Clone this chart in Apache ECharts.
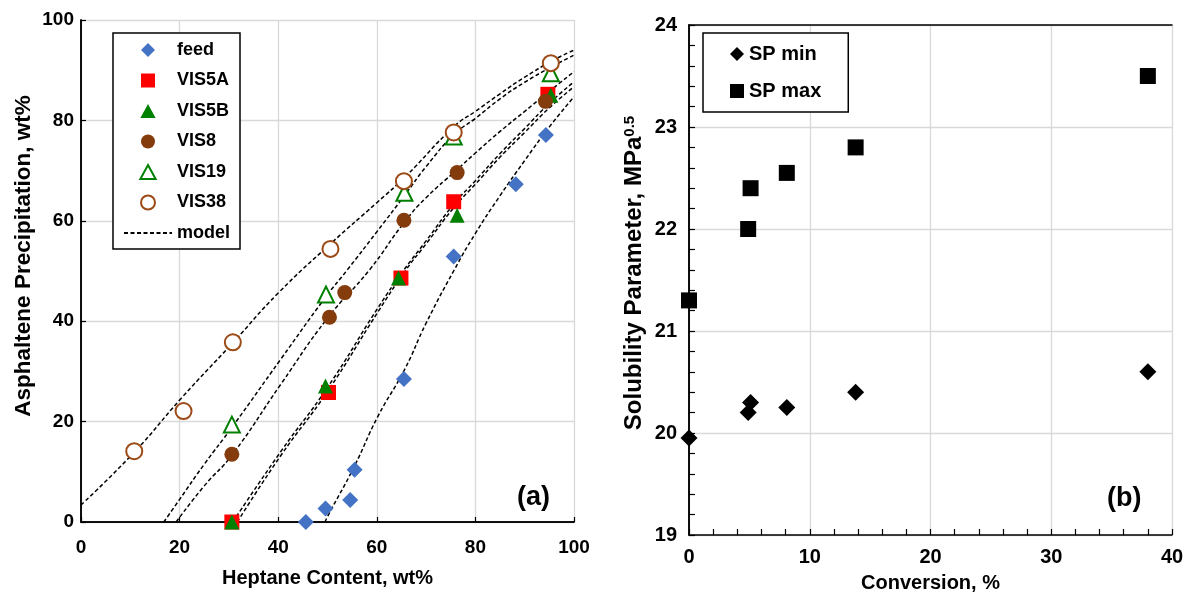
<!DOCTYPE html>
<html>
<head>
<meta charset="utf-8">
<script src="https://cdn.jsdelivr.net/npm/echarts@6/dist/echarts.min.js"></script>
<style>
html,body{margin:0;padding:0;background:#fff;}
#c{width:1186px;height:594px;}
</style>
</head>
<body>
<div id="c"></div>
<script>
// ---- Panel (a): measured points [heptane wt%, precipitation wt%] ----
const feed  = [[45.6,0],[49.6,2.7],[54.6,4.4],[55.5,10.4],[65.5,28.5],[75.6,52.9],[88.2,67.3],[94.3,77.1]];
const vis5A = [[30.6,0],[50.2,25.8],[64.9,48.6],[75.6,63.8],[94.7,85.2]];
const vis5B = [[30.6,0],[49.6,27.1],[64.4,48.6],[76.3,61.1],[95.3,85.0]];
const vis8  = [[30.6,13.5],[50.4,40.8],[53.5,45.7],[65.5,60.1],[76.3,69.6],[94.2,83.8]];
const vis19 = [[30.6,19.4],[49.7,45.3],[65.6,65.6],[75.6,76.8],[95.3,89.4]];
const vis38 = [[10.8,14.1],[20.8,22.1],[30.8,35.8],[50.6,54.4],[65.5,67.9],[75.6,77.6],[95.3,91.4]];

// ---- Panel (a): model curves ----
const modelVis38 = [[0,3.4],[10.8,13.9],[20.3,24.6],[30.8,35.7],[40,45.6],[50.7,55.5],[60,63.6],[65.8,68.8],[75.7,78.8],[80,81.8],[85,85.3],[90,88.6],[95.8,92],[100,94]];
const modelVis19 = [[16.8,0],[20,4.5],[25,11.5],[30.8,19.1],[40.5,32.4],[49.7,44.9],[54,50.2],[60,57.8],[65.6,65],[70,70.8],[75.7,77.2],[80,80.4],[85,84.3],[90,87.6],[95.5,90.7],[100,93]];
const modelVis8  = [[19.3,0],[25,7.2],[30.6,13.3],[40.5,27.4],[50,40.6],[58.5,50.2],[65.5,59.6],[70,64.6],[76.3,70.2],[80,73.5],[85,77.8],[90,81.8],[95,85.8],[100,89.7]];
const modelVis5A = [[30.8,0],[40.5,14],[50,26.8],[60.2,42.6],[65.5,50.2],[70,56],[75.6,63.3],[80,68],[85,73.4],[90,78.4],[95,83.4],[100,87.7]];
const modelVis5B = [[31.7,0],[40.5,13.2],[50,26],[60.2,41.8],[65.9,50.2],[70,55.4],[75.6,62.6],[80,67.3],[85,72.7],[90,77.6],[95,82.5],[100,86.7]];
const modelFeed  = [[49.5,0],[50,1.1],[55.4,11],[60.2,21],[65.6,30.3],[70,39.6],[75.7,50.2],[80,57.5],[85,65],[90,72],[95,78.7],[100,84.7]];

// ---- Panel (b) ----
const conversion = [0, 4.9, 5.1, 8.1, 13.8, 38.0];
const spMin = [19.95, 20.2, 20.3, 20.25, 20.4, 20.6];
const spMax = [21.3, 22.0, 22.4, 22.55, 22.8, 23.5];

const FONT = 'Liberation Sans, Arial, sans-serif';
const chart = echarts.init(document.getElementById('c'));

function pair(xs, ys){ return xs.map((x,i)=>[x, ys[i]]); }

const modelStyle = {color:'#000', width:1.5, type:[4,2.5]};
function model(data){
  return {name:'model', type:'line', xAxisIndex:0, yAxisIndex:0, data:data, smooth:true,
          symbol:'none', lineStyle:modelStyle, itemStyle:{color:'#000'}, z:3, silent:true};
}
function scat(name, data, symbol, size, itemStyle, xi, yi){
  return {name:name, type:'scatter', xAxisIndex:xi, yAxisIndex:yi, data:data, symbol:symbol,
          symbolSize:size, itemStyle:Object.assign({opacity:1}, itemStyle), clip:false, z:5};
}

const gridLine = {show:true, lineStyle:{color:'#d9d9d9', width:1.3}};
const axisTextA = {color:'#000', fontFamily:FONT, fontWeight:'bold', fontSize:19};
const axisTextB = {color:'#000', fontFamily:FONT, fontWeight:'bold', fontSize:20};

const ICON_DIAMOND = 'path://M7,0L14,7L7,14L0,7Z';
const ICON_RECT = 'path://M0,0H12V12H0Z';
const ICON_TRI = 'path://M6,0L12,11L0,11Z';
const ICON_CIRCLE = 'path://M0,6A6,6 0 1 1 12,6A6,6 0 1 1 0,6Z';

const option = {
  animation:false,
  backgroundColor:'#fff',
  grid:[
    {left:81, right:612, top:20, bottom:72, outerBoundsMode:'none', containLabel:false},
    {left:689, right:14, top:25, bottom:59, outerBoundsMode:'none', containLabel:false}
  ],
  xAxis:[
    {type:'value', gridIndex:0, min:0, max:100, interval:20,
     name:'Heptane Content, wt%', nameLocation:'middle', nameGap:46,
     nameTextStyle:{color:'#000', fontFamily:FONT, fontWeight:'bold', fontSize:20},
     axisLine:{show:true, onZero:false, lineStyle:{color:'#000', width:1.5}},
     axisTick:{show:true, inside:true, length:5, lineStyle:{color:'#000', width:1.2}},
     axisLabel:Object.assign({margin:16}, axisTextA),
     splitLine:gridLine},
    {type:'value', gridIndex:0, position:'top', min:0, max:100,
     axisLine:{show:true, lineStyle:{color:'#000', width:1.5}}, axisTick:{show:false},
     axisLabel:{show:false}, splitLine:{show:false}},
    {type:'value', gridIndex:1, min:0, max:40, interval:10,
     name:'Conversion, %', nameLocation:'middle', nameGap:38,
     nameTextStyle:{color:'#000', fontFamily:FONT, fontWeight:'bold', fontSize:20},
     axisLine:{show:true, onZero:false, lineStyle:{color:'#000', width:1.5}},
     axisTick:{show:true, inside:true, length:6, lineStyle:{color:'#000', width:1.2}},
     minorTick:{show:true, splitNumber:5, length:6, lineStyle:{color:'#000', width:1.2}},
     axisLabel:Object.assign({margin:12}, axisTextB),
     splitLine:gridLine},
    {type:'value', gridIndex:1, position:'top', min:0, max:40,
     axisLine:{show:true, lineStyle:{color:'#000', width:1.5}}, axisTick:{show:false},
     axisLabel:{show:false}, splitLine:{show:false}}
  ],
  yAxis:[
    {type:'value', gridIndex:0, min:0, max:100, interval:20,
     name:'Asphaltene Precipitation, wt%', nameLocation:'middle', nameGap:46,
     nameTextStyle:{color:'#000', fontFamily:FONT, fontWeight:'bold', fontSize:22.5, padding:[0,0,0,30]},
     axisLine:{show:true, onZero:false, lineStyle:{color:'#000', width:1.5}},
     axisTick:{show:true, inside:true, length:5, lineStyle:{color:'#000', width:1.2}},
     axisLabel:Object.assign({margin:7}, axisTextA),
     splitLine:gridLine},
    {type:'value', gridIndex:0, position:'right', min:0, max:100,
     axisLine:{show:true, lineStyle:{color:'#000', width:1.5}}, axisTick:{show:false},
     axisLabel:{show:false}, splitLine:{show:false}},
    {type:'value', gridIndex:1, min:19, max:24, interval:1,
     name:'{a|Solubility Parameter, MPa}{s|0.5}', nameLocation:'middle', nameGap:42,
     nameTextStyle:{color:'#000', fontFamily:FONT, fontWeight:'bold', fontSize:24, padding:[0,0,0,14],
       rich:{a:{color:'#000', fontFamily:FONT, fontWeight:'bold', fontSize:24},
             s:{color:'#000', fontFamily:FONT, fontWeight:'bold', fontSize:15, verticalAlign:'top', padding:[0,0,10,0]}}},
     axisLine:{show:true, onZero:false, lineStyle:{color:'#000', width:1.5}},
     axisTick:{show:true, inside:true, length:6, lineStyle:{color:'#000', width:1.2}},
     minorTick:{show:true, splitNumber:5, length:6, lineStyle:{color:'#000', width:1.2}},
     axisLabel:Object.assign({margin:12}, axisTextB),
     splitLine:gridLine},
    {type:'value', gridIndex:1, position:'right', min:19, max:24,
     axisLine:{show:true, lineStyle:{color:'#000', width:1.5}}, axisTick:{show:false},
     axisLabel:{show:false}, splitLine:{show:false}}
  ],
  legend:[
    {left:113, top:33, orient:'vertical', itemWidth:48, itemHeight:14, itemGap:12.5,
     padding:[8,10,7,10], borderColor:'#000', borderWidth:1.5, backgroundColor:'#fff',
     textStyle:{color:'#000', fontFamily:FONT, fontWeight:'bold', fontSize:18},
     data:[
       {name:'feed', icon:ICON_DIAMOND},
       {name:'VIS5A', icon:ICON_RECT},
       {name:'VIS5B', icon:ICON_TRI},
       {name:'VIS8', icon:ICON_CIRCLE},
       {name:'VIS19', icon:ICON_TRI},
       {name:'VIS38', icon:ICON_CIRCLE},
       {name:'model', itemStyle:{opacity:0}}
     ]},
    {left:703, top:33, orient:'vertical', itemWidth:14, itemHeight:14, itemGap:17,
     padding:[11,27,11,27], borderColor:'#000', borderWidth:1.5, backgroundColor:'#fff',
     textStyle:{color:'#000', fontFamily:FONT, fontWeight:'bold', fontSize:20},
     data:['SP min','SP max']}
  ],
  graphic:[
    {type:'text', left:517, top:484, style:{text:'(a)', fill:'#000', font:'bold 27px '+FONT}},
    {type:'text', left:1107, top:485, style:{text:'(b)', fill:'#000', font:'bold 27px '+FONT}}
  ],
  series:[
    model(modelVis38), model(modelVis19), model(modelVis8), model(modelVis5A), model(modelVis5B), model(modelFeed),
    scat('feed', feed, 'diamond', 16, {color:'#4472C4'}, 0, 0),
    scat('VIS5A', vis5A, 'rect', 15, {color:'#FF0000'}, 0, 0),
    scat('VIS5B', vis5B, 'triangle', 15, {color:'#008000'}, 0, 0),
    scat('VIS8', vis8, 'circle', 15, {color:'#843C0C'}, 0, 0),
    scat('VIS19', vis19, 'triangle', 16, {color:'#fff', borderColor:'#008000', borderWidth:2}, 0, 0),
    scat('VIS38', vis38, 'circle', 16, {color:'#fff', borderColor:'#9C4A16', borderWidth:2}, 0, 0),
    scat('SP min', pair(conversion, spMin), 'diamond', 17, {color:'#000'}, 2, 2),
    scat('SP max', pair(conversion, spMax), 'rect', 16, {color:'#000'}, 2, 2)
  ]
};
chart.setOption(option);
</script>
</body>
</html>
